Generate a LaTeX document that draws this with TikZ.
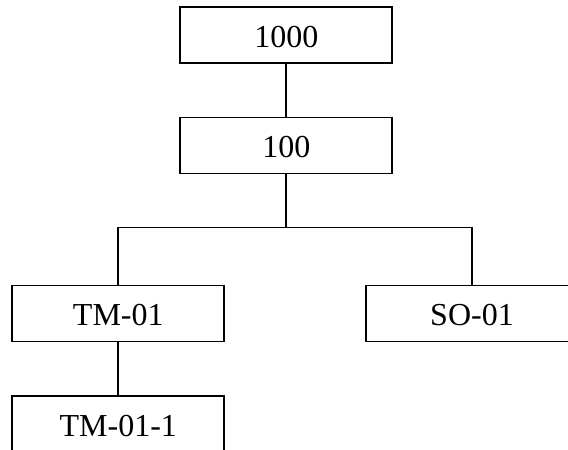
\documentclass[tikz,border=0pt]{standalone}
\usepackage{fontspec}
\setmainfont{Liberation Serif}
\begin{document}
\begin{tikzpicture}[x=0.75pt,y=-0.75pt,
  box/.style={draw,line width=1.4pt,minimum width=159pt,minimum height=42pt,inner sep=0pt,
    text height=18.5pt,text depth=0pt,font=\fontsize{24}{28}\selectfont},
  link/.style={line width=1.3pt}]
\clip (0,0) rectangle (568,450);
\node[box] (n1000) at (286.3,35.3) {1000};
\node[box] (n100) at (286.3,145.5) {100};
\node[box] (tm01) at (118.3,313.5) {TM-01};
\node[box] (so01) at (472,313.5) {SO-01};
\node[box] (tm011) at (118.3,424) {TM-01-1};
\coordinate (j) at (286.3,227.5);
\draw[link] (n1000.south) -- (n100.north);
\draw[link] (n100.south) -- (j);
\draw[link] (tm01.north) |- (j) -| (so01.north);
\draw[link] (tm01.south) -- (tm011.north);
\end{tikzpicture}
\end{document}
